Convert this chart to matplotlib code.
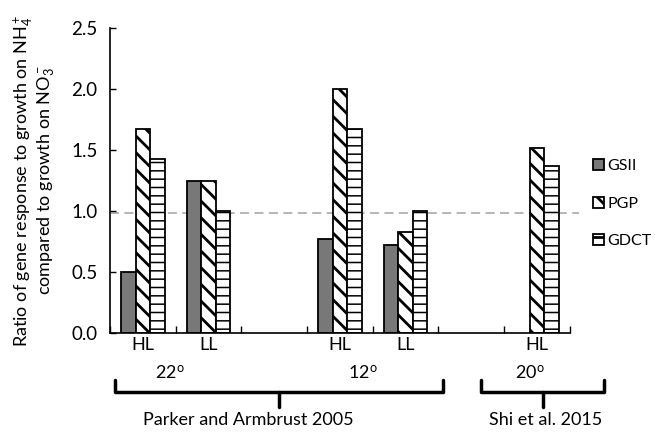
import numpy as np
import matplotlib
matplotlib.use("Agg")
import matplotlib.pyplot as plt
from matplotlib.lines import Line2D

plt.rcParams["font.family"] = ["Lato", "DejaVu Sans"]
plt.rcParams["mathtext.fontset"] = "custom"
plt.rcParams["mathtext.rm"] = "Lato"
plt.rcParams["mathtext.it"] = "Lato"
plt.rcParams["hatch.linewidth"] = 2.0

# data
conditions = ["HL", "LL", "", "HL", "LL", "", "HL"]
gsii = [0.50, 1.25, np.nan, 0.77, 0.72, np.nan, np.nan]
pgp = [1.67, 1.25, np.nan, 2.00, 0.83, np.nan, 1.52]
gdct = [1.43, 1.00, np.nan, 1.67, 1.00, np.nan, 1.37]
reference_level = 0.98
temps = ["22$^{\\rm o}$", "12$^{\\rm o}$", "20$^{\\rm o}$"]
studies = ["Parker and Armbrust 2005", "Shi et al. 2015"]

fig = plt.figure(figsize=(6.55, 4.33), dpi=100)
ax = fig.add_axes([0.168, 0.231, 0.702, 0.704])

x = np.arange(len(conditions))
w = 0.22
ax.bar(x - w, gsii, w, color="#787878", edgecolor="black", linewidth=1.3, label="GSII")
ax.bar(x, pgp, w, color="white", edgecolor="black", linewidth=1.3, hatch="\\\\", label="PGP")
b3 = ax.bar(x + w, gdct, w, color="white", edgecolor="black", linewidth=1.3, hatch="--", label="GDCT")
for p in b3:
    if hasattr(p, "set_hatch_linewidth"):
        p.set_hatch_linewidth(1.1)

ax.axhline(reference_level, xmin=0, xmax=1.02, color="#b0b0b0", lw=1.3,
           ls=(0, (5, 3)), clip_on=False, zorder=0)

ax.set_xlim(-0.5, len(conditions) - 0.5)
ax.set_ylim(0, 2.5)
ax.set_yticks(np.arange(0, 2.51, 0.5))
ax.set_yticklabels([f"{v:.1f}" for v in np.arange(0, 2.51, 0.5)], fontsize=13.5)
ax.set_xticks(x)
ax.set_xticklabels(conditions, fontsize=13)
ax.set_xticks(np.arange(-0.5, len(conditions), 1.0), minor=True)
ax.tick_params(axis="x", which="major", length=0, pad=3)
ax.tick_params(axis="x", which="minor", direction="in", length=5, width=1)
ax.tick_params(axis="y", direction="in", length=4, width=1, pad=9)
for s in ["top", "right"]:
    ax.spines[s].set_visible(False)
for s in ["left", "bottom"]:
    ax.spines[s].set_linewidth(1.2)

ax.set_ylabel("Ratio of gene response to growth on NH$_4^+$\ncompared to growth on NO$_3^-$",
              fontsize=13, labelpad=10, linespacing=1.05)

leg = ax.legend(loc="upper left", bbox_to_anchor=(1.05, 0.57), frameon=False, fontsize=11.5,
                handlelength=0.7, handleheight=0.7, handletextpad=0.2, labelspacing=1.45,
                borderaxespad=0, borderpad=0)

# brackets under the axis
def bracket(x0, x1, xm):
    y_top, y_mid, y_bot = 0.122, 0.094, 0.060
    fig.add_artist(Line2D([x0, x0, x1, x1], [y_top, y_mid, y_mid, y_top],
                          transform=fig.transFigure, color="black", lw=2.5,
                          solid_joinstyle="round", solid_capstyle="round"))
    fig.add_artist(Line2D([xm, xm], [y_mid, y_bot], transform=fig.transFigure,
                          color="black", lw=2.5, solid_capstyle="round"))

bracket(115 / 655, 443 / 655, 279 / 655)
bracket(481 / 655, 604 / 655, 543 / 655)

for t, px in zip(temps, [170, 363, 530]):
    fig.text(px / 655, 0.139, t, ha="center", va="center", fontsize=13)
for s, px in zip(studies, [248, 546]):
    fig.text(px / 655, 0.012, s, ha="center", va="bottom", fontsize=13)

fig.savefig("out.png", dpi=100)
